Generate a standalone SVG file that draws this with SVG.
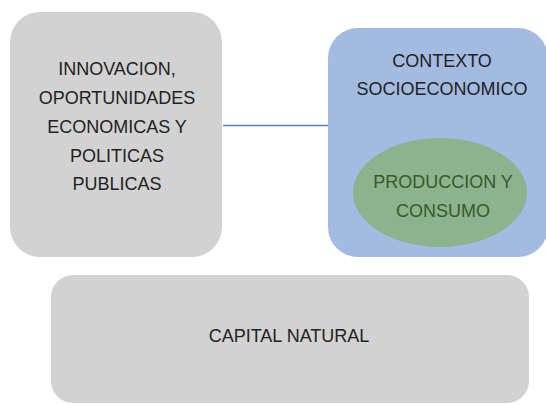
<svg xmlns="http://www.w3.org/2000/svg" width="546" height="405" viewBox="0 0 546 405">
<style>
text{font-family:"Liberation Sans",Arial,sans-serif;font-size:18px;text-anchor:middle;fill:#222}
.g{fill:#d2d2d2}
.b{fill:#a4bbe1}
.e{fill:#8ab38e}
.t2{fill:#3a5a2a}
</style>
<rect width="546" height="405" fill="#fff"/>
<g id="connectors">
<line x1="223" y1="125.5" x2="329" y2="125.5" stroke="#5b82c8" stroke-width="1.5"/>
</g>
<g id="innovacion">
<rect class="g" x="10" y="12" width="212" height="245" rx="30"/>
<text x="117" y="75">INNOVACION,</text>
<text x="117" y="104">OPORTUNIDADES</text>
<text x="117" y="133">ECONOMICAS Y</text>
<text x="117" y="162">POLITICAS</text>
<text x="117" y="190">PUBLICAS</text>
</g>
<g id="contexto">
<rect class="b" x="328" y="28" width="220" height="229" rx="30"/>
<text x="442" y="67">CONTEXTO</text>
<text x="442" y="95">SOCIOECONOMICO</text>
</g>
<g id="produccion">
<ellipse class="e" cx="440" cy="192.5" rx="87" ry="54.5"/>
<text class="t2" x="443" y="188">PRODUCCION Y</text>
<text class="t2" x="443" y="217">CONSUMO</text>
</g>
<g id="capital">
<rect class="g" x="51" y="275" width="478" height="128" rx="22"/>
<text x="289" y="342">CAPITAL NATURAL</text>
</g>
</svg>
